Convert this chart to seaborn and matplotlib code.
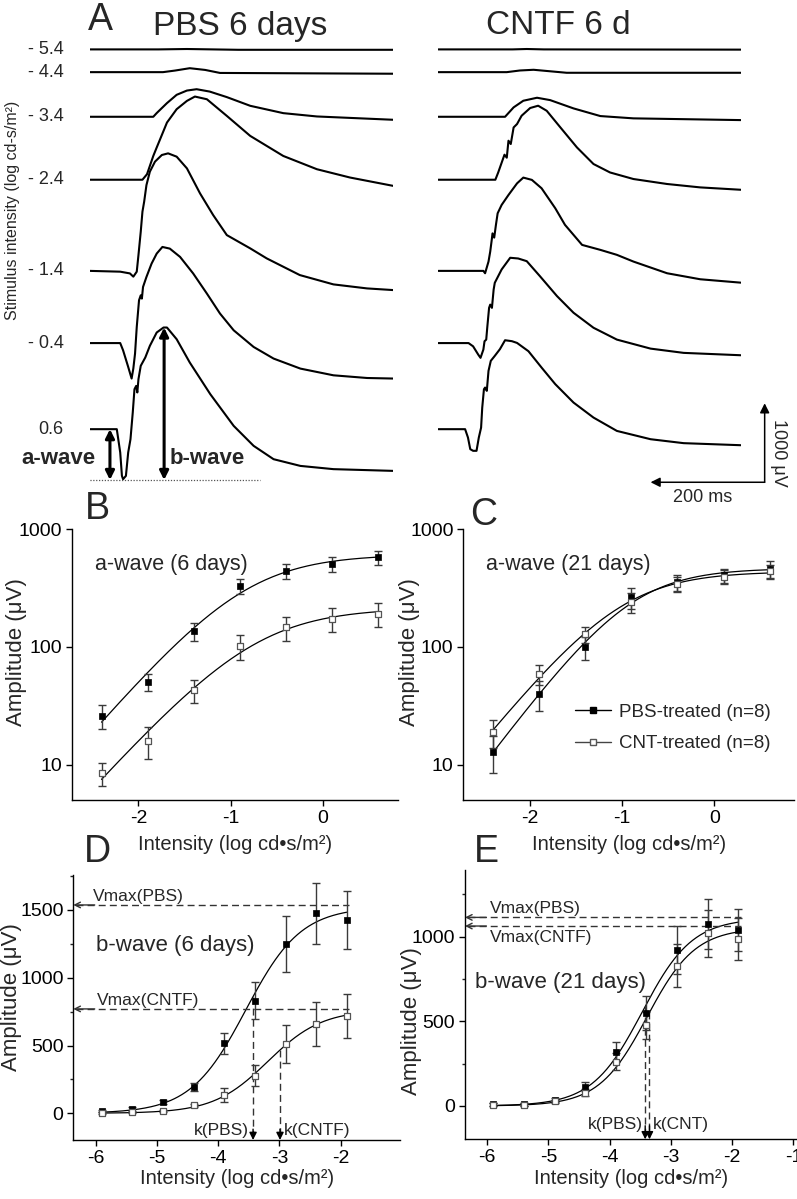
import numpy as np
import matplotlib
matplotlib.use("Agg")
import matplotlib.pyplot as plt
from matplotlib.lines import Line2D
from matplotlib.ticker import MultipleLocator, NullLocator, FixedLocator
import seaborn as sns

W, H = 797, 1199

# ---------------- panel A: ERG traces (ms, uV relative to pre-flash baseline)
INTENSITY_LABELS = ["- 5.4", "- 4.4", "- 3.4", "- 2.4", "- 1.4", "- 0.4", "0.6"]

PBS_TIME = [
    [0, 120, 170, 260, 532],
    [0, 128, 149, 175, 202, 228, 532],
    [0, 111, 117, 135, 152, 170, 187, 210, 240, 281, 339, 398, 532],
    [0, 92, 100, 105, 111, 117, 123, 135, 152, 170, 184, 205, 240, 281, 339, 398, 456, 532],
    [0, 53, 70, 76, 82, 85, 89, 92, 95, 99, 105, 114, 126, 137, 152, 170, 193, 216, 240,
     281, 310, 368, 427, 486, 532],
    [0, 53, 58, 67, 73, 76, 79, 82, 86, 89, 91, 93, 97, 99, 108, 117, 127, 140, 158, 181,
     205, 228, 252, 287, 322, 369, 427, 486, 532],
    [0, 47, 53, 56, 58, 63, 67, 71, 75, 78, 81, 83, 85, 89, 97, 105, 117, 129, 135, 152,
     175, 211, 252, 287, 322, 369, 427, 532],
]
PBS_UV = [
    [0, 0, 5, -5, -5],
    [0, 0, 20, 50, 28, -10, -20],
    [0, 0, 47, 173, 278, 332, 349, 319, 249, 139, 46, 4, -38],
    [0, 0, 70, 175, 301, 408, 513, 724, 893, 998, 1053, 1019, 808, 555, 301, 133, 28, -78],
    [0, -10, -32, -73, -10, 200, 496, 750, 876, 1086, 1256, 1383, 1467, 1488, 1446, 1298,
     981, 707, 453, 285, 158, -53, -171, -222, -243],
    [0, 0, -91, -302, -449, -322, -133, 204, 542, 605, 563, 710, 795, 837, 1006, 1133,
     1217, 1196, 1091, 881, 627, 374, 162, -49, -196, -323, -408, -442, -449],
    [0, 0, -295, -591, -633, -591, -295, -127, 211, 506, 548, 465, 633, 802, 908, 1055,
     1224, 1287, 1287, 1139, 844, 443, 42, -211, -380, -465, -506, -528],
]

CNTF_TIME = [
    [0, 130, 155, 185, 530],
    [0, 120, 143, 167, 196, 225, 530],
    [0, 117, 132, 149, 173, 196, 237, 284, 342, 530],
    [0, 100, 105, 111, 116, 120, 123, 127, 132, 138, 146, 161, 175, 190, 214, 243, 272,
     301, 342, 401, 459, 530],
    [0, 79, 82, 88, 91, 94, 95, 98, 101, 104, 111, 123, 138, 149, 164, 181, 205, 222, 252,
     284, 313, 342, 401, 459, 530],
    [0, 53, 61, 70, 74, 79, 81, 84, 86, 89, 91, 94, 97, 99, 111, 126, 140, 155, 178, 208,
     237, 272, 313, 372, 430, 530],
    [0, 47, 52, 56, 61, 67, 71, 75, 77, 80, 82, 85, 88, 92, 99, 108, 117, 129, 138, 158,
     181, 205, 237, 272, 313, 372, 430, 530],
]
CNTF_UV = [
    [0, 0, 5, 0, -3],
    [0, 0, 21, 30, 11, -8, -8],
    [0, 0, 119, 203, 241, 211, 106, 9, -20, -42],
    [0, 0, 92, 215, 317, 279, 494, 452, 662, 705, 810, 908, 937, 873, 662, 409, 199, 92, 9,
     -54, -97, -127],
    [0, 0, -30, 118, 244, 412, 475, 421, 582, 729, 835, 961, 1108, 1181, 1152, 1046, 793,
     583, 329, 266, 203, 118, -30, -106, -149],
    [0, 0, -41, -146, -187, -82, 23, 44, 213, 446, 487, 446, 678, 763, 932, 1080, 1071,
     1037, 848, 595, 384, 194, 44, -70, -124, -154],
    [0, 0, -106, -253, -274, -274, -106, 20, 273, 506, 527, 485, 738, 865, 928, 1013, 1126,
     1114, 1092, 987, 780, 570, 337, 147, -22, -127, -177, -203],
]
A_WAVE_TROUGH_UV = -643     # dotted reference level under the 0.6 trace
B_WAVE_PEAK_UV = 1287

# ---------------- panels B, C: a-wave amplitude (uV, log scale)
A_INT = [-2.4, -1.9, -1.4, -0.9, -0.4, 0.1, 0.6]
A6_PBS = [26, 51, 137, 330, 443, 505, 575]
A6_PBS_ERR = [6, 8.5, 24, 50, 64, 70, 75]
A6_CNTF = [8.5, 16, 43, 102, 147, 173, 191]
A6_CNTF_ERR = [1.9, 4.8, 9.5, 25, 34, 40, 43]
A21_PBS = [13, 40, 100, 263, 353, 407, 457]
A21_PBS_ERR = [4.5, 11.5, 22, 55, 55, 55, 75]
A21_CNTF = [19, 59, 128, 240, 345, 395, 440]
A21_CNTF_ERR = [5, 11, 20, 45, 50, 50, 60]

# ---------------- panels D, E: b-wave amplitude (uV)
B_INT = [-5.9, -5.4, -4.9, -4.4, -3.9, -3.4, -2.9, -2.4, -1.9]
B6_PBS = [17, 30, 81, 197, 516, 831, 1249, 1476, 1427]
B6_PBS_ERR = [10, 15, 15, 30, 80, 135, 205, 225, 215]
B6_CNTF = [3, 7, 20, 58, 135, 278, 512, 659, 718]
B6_CNTF_ERR = [5, 5, 8, 12, 50, 80, 140, 165, 160]
B21_PBS = [10, 10, 35, 114, 317, 551, 921, 1075, 1039]
B21_PBS_ERR = [8, 8, 12, 25, 60, 100, 140, 150, 125]
B21_CNTF = [8, 8, 28, 79, 262, 478, 829, 1020, 986]
B21_CNTF_ERR = [8, 8, 10, 20, 50, 80, 125, 140, 125]
VMAX6 = [1537, 770]        # PBS, CNTF
K6 = [-3.43, -2.99]
VMAX21 = [1114, 1063]
K21 = [-3.42, -3.35]

# ---------------- layout (pixels of the 797x1199 canvas)
TRACE_OFFSET_UV = [4808, 4520, 3955, 3158, 2004, 1090, 0]
FONT = ["Liberation Sans", "DejaVu Sans"]
INK = "black"
ERR = "#3a3a3a"
OPEN_EDGE = "#555555"

sns.set_theme(style="ticks")
plt.rcParams["font.family"] = FONT
plt.rcParams["axes.linewidth"] = 1.0
plt.rcParams["axes.unicode_minus"] = False

fig = plt.figure(figsize=(W / 100, H / 100), dpi=100)
fig.patch.set_facecolor("white")


def px_axes(left, top, right, bottom):
    return fig.add_axes([left / W, 1 - bottom / H, (right - left) / W, (bottom - top) / H])


def ftext(x, y, s, **kw):
    fig.text(x / W, 1 - y / H, s, **kw)


def hill_fit(x, y, log=False):
    """Least-squares Naka-Rushton fit V = Vmax / (1 + 10**(n (k - x))) by grid search."""
    x = np.asarray(x, float)
    y = np.asarray(y, float)
    ks = np.arange(-6.5, 1.5, 0.01)[:, None, None]
    ns = np.arange(0.4, 3.0, 0.02)[None, :, None]
    f = 1.0 / (1.0 + 10 ** (ns * (ks - x)))
    if log:
        r = np.log(y) - np.log(f)
        lv = r.mean(axis=2, keepdims=True)
        sse = ((r - lv) ** 2).sum(axis=2)
        vmax = np.exp(lv[..., 0])
    else:
        vmax = (f * y).sum(axis=2) / (f * f).sum(axis=2)
        sse = ((y - vmax[..., None] * f) ** 2).sum(axis=2)
    i, j = np.unravel_index(np.argmin(sse), sse.shape)
    return vmax[i, j], ks[i, 0, 0], ns[0, j, 0]


def hill(x, p):
    vmax, k, n = p
    return vmax / (1.0 + 10 ** (n * (k - np.asarray(x, float))))


def draw_series(ax, x, y, err, filled, log=False):
    p = hill_fit(x, y, log=log)
    xs = np.linspace(x[0], x[-1], 200)
    sns.lineplot(x=xs, y=hill(xs, p), ax=ax, color=INK, lw=0.9, estimator=None,
                 sort=False, zorder=2)
    ax.errorbar(x, y, yerr=err, fmt="none", ecolor=ERR, elinewidth=1.0, capsize=3,
                capthick=1.0, zorder=3)
    if filled:
        sns.scatterplot(x=x, y=y, ax=ax, marker="s", s=24, color=INK, edgecolor=INK,
                        linewidth=0.5, zorder=4)
    else:
        sns.scatterplot(x=x, y=y, ax=ax, marker="s", s=24, color="white",
                        edgecolor=OPEN_EDGE, linewidth=0.9, zorder=4)
    return p


def style_axes(ax):
    sns.despine(ax=ax)
    ax.tick_params(direction="out", length=4, width=1, labelsize=14, colors=INK, pad=3)
    ax.tick_params(which="minor", direction="out", length=2.5, width=1)
    for s in ("left", "bottom"):
        ax.spines[s].set_color(INK)
    ax.grid(False)
    ax.set_facecolor("none")


def place_ylabel(ax, box, x_px, frac):
    ax.set_ylabel("Amplitude (\u03bcV)", fontsize=16, va="center")
    ax.yaxis.set_label_coords((x_px - box[0]) / (box[2] - box[0]), frac)


# ---------------- panel A
ylim_a = (-770, 4927)
for (left, right, times, volts, tmax) in [
    (90, 393.3, PBS_TIME, PBS_UV, 532),
    (438.3, 740.7, CNTF_TIME, CNTF_UV, 530),
]:
    ax = px_axes(left, 40, right, 490)
    ax.set_xlim(0, tmax)
    ax.set_ylim(*ylim_a)
    ax.axis("off")
    for t, v, off in zip(times, volts, TRACE_OFFSET_UV):
        sns.lineplot(x=t, y=np.asarray(v) + off, ax=ax, color=INK, lw=1.5,
                     estimator=None, sort=False)
    if left < 100:
        axA = ax
    else:
        axA2 = ax

for lab, off in zip(INTENSITY_LABELS, TRACE_OFFSET_UV):
    axA.text(-46, off, lab, ha="right", va="center", fontsize=13, clip_on=False)

axA.plot([-5, 298], [A_WAVE_TROUGH_UV] * 2, ls=(0, (1, 1.3)), color="#555555", lw=0.9)
arrow_kw = dict(arrowstyle="<|-|>", color=INK, lw=2.2, mutation_scale=13,
                shrinkA=0, shrinkB=0)
axA.annotate("", xy=(35, A_WAVE_TROUGH_UV), xytext=(35, 0), arrowprops=arrow_kw)
axA.annotate("", xy=(130, A_WAVE_TROUGH_UV), xytext=(130, B_WAVE_PEAK_UV),
             arrowprops=arrow_kw)
axA.text(9, -365, "a-wave", ha="right", va="center", fontsize=16, fontweight="bold")
axA.text(140, -365, "b-wave", ha="left", va="center", fontsize=16, fontweight="bold")

# scale bar: 200 ms x 1000 uV
sb_kw = dict(arrowstyle="-|>", color=INK, lw=1.1, mutation_scale=14, shrinkA=0, shrinkB=0)
axA2.annotate("", xy=(572, -672 + 1000), xytext=(572, -672), arrowprops=sb_kw,
              annotation_clip=False)
axA2.annotate("", xy=(572 - 200, -672), xytext=(572, -672), arrowprops=sb_kw,
              annotation_clip=False)
axA2.text(596, -301, "1000 \u03bcV", rotation=270, ha="center", va="center",
          fontsize=13, clip_on=False)
axA2.text(464, -871, "200 ms", ha="center", va="center", fontsize=13, clip_on=False)

ftext(100, 20, "A", fontsize=27, ha="center", va="center")
ftext(240, 26, "PBS 6 days", fontsize=24, ha="center", va="center")
ftext(558, 25, "CNTF 6 d", fontsize=24, ha="center", va="center")
ftext(13, 210, "Stimulus intensity (log cd-s/m\u00b2)", fontsize=11.5, rotation=90,
      ha="center", va="center")

# ---------------- panels B, C
XLAB = "Intensity (log cd\u2022s/m\u00b2)"

for (box, pbs, pbs_e, cntf, cntf_e, note, letter, lab, ylab_x) in [
    ((72, 529, 398, 800), A6_PBS, A6_PBS_ERR, A6_CNTF, A6_CNTF_ERR,
     "a-wave (6 days)", (97, 509), "B", 16.7),
    ((463.3, 529, 794, 800), A21_PBS, A21_PBS_ERR, A21_CNTF, A21_CNTF_ERR,
     "a-wave (21 days)", (484, 515), "C", 410),
]:
    ax = px_axes(*box)
    ax.set_yscale("log")
    draw_series(ax, A_INT, pbs, pbs_e, True, log=True)
    draw_series(ax, A_INT, cntf, cntf_e, False, log=True)
    ax.set_xlim(-2.72, -2.72 + (box[2] - box[0]) / 92.3)
    ax.set_ylim(5.05, 1000)
    ax.yaxis.set_major_locator(FixedLocator([10, 100, 1000]))
    ax.yaxis.set_minor_locator(NullLocator())
    ax.set_yticklabels(["10", "100", "1000"])
    ax.xaxis.set_major_locator(FixedLocator([-2, -1, 0]))
    ax.set_xticklabels(["-2", "-1", "0"])
    style_axes(ax)
    ax.set_xlabel(XLAB, fontsize=14.5, labelpad=6)
    place_ylabel(ax, box, ylab_x, 0.547)
    ax.text(0.07, 0.87, note, transform=ax.transAxes, fontsize=15.5, va="center")
    ftext(*letter, lab, fontsize=27, ha="center", va="center")
    if lab == "C":
        handles = [
            Line2D([], [], color=INK, lw=1, marker="s", ms=5, mfc=INK, mec=INK),
            Line2D([], [], color="#444444", lw=1, marker="s", ms=5, mfc="white",
                   mec=OPEN_EDGE),
        ]
        ax.legend(handles, ["PBS-treated (n=8)", "CNT-treated (n=8)"], frameon=False,
                  fontsize=13.5, handlelength=1.9, handletextpad=0.45, borderpad=0,
                  borderaxespad=0, labelspacing=0.75, loc="center left",
                  bbox_to_anchor=((575 - box[0]) / (box[2] - box[0]),
                                  1 - (728 - box[1]) / (box[3] - box[1])))

# ---------------- panels D, E
for (box, xl, yl, pbs, pbs_e, cntf, cntf_e, vmax, ks, note, note_xy, letter, lab,
     ylab_xy) in [
    ((73.3, 875, 400, 1140), (-6.366, -1.03), (-197, 1758), B6_PBS, B6_PBS_ERR,
     B6_CNTF, B6_CNTF_ERR, VMAX6, K6, "b-wave (6 days)", (-6.0, 1240), (97, 852), "D",
     (11, 0.54)),
    ((465, 870, 797, 1139.3), (-6.364, -0.94), (-197, 1394), B21_PBS, B21_PBS_ERR,
     B21_CNTF, B21_CNTF_ERR, VMAX21, K21, "b-wave (21 days)", (-6.2, 730), (486, 852),
     "E", (411, 0.44)),
]:
    ax = px_axes(*box)
    p_pbs = draw_series(ax, B_INT, pbs, pbs_e, True)
    p_cntf = draw_series(ax, B_INT, cntf, cntf_e, False)
    ax.set_xlim(*xl)
    ax.set_ylim(*yl)
    ax.xaxis.set_major_locator(MultipleLocator(1))
    ax.yaxis.set_major_locator(MultipleLocator(500))
    ax.yaxis.set_minor_locator(MultipleLocator(250))
    style_axes(ax)
    ax.set_xlabel(XLAB, fontsize=14.5, labelpad=2)
    place_ylabel(ax, box, *ylab_xy)
    ax.text(note_xy[0], note_xy[1], note, fontsize=16, va="center")
    ftext(*letter, lab, fontsize=27, ha="center", va="center")

    dash = dict(color="#333333", lw=1.0, ls=(0, (5, 3)))
    for v in vmax:
        ax.plot([xl[0] + 0.05, -1.86], [v, v], **dash)
        ax.annotate("", xy=(xl[0], v), xytext=(xl[0] + 0.35, v),
                    arrowprops=dict(arrowstyle="->", color="#333333", lw=1.0,
                                    mutation_scale=10, shrinkA=0, shrinkB=0))
    for k, p in zip(ks, (p_pbs, p_cntf)):
        top = float(hill(k, p))
        ax.plot([k, k], [top, yl[0] + 40], **dash)
        ax.annotate("", xy=(k, yl[0]), xytext=(k, yl[0] + 80),
                    arrowprops=dict(arrowstyle="-|>", color=INK, lw=1.0,
                                    mutation_scale=11, shrinkA=0, shrinkB=0))

    if lab == "D":
        ax.text(-6.05, 1545, "Vmax(PBS)", fontsize=12.5, va="bottom")
        ax.text(-5.98, 780, "Vmax(CNTF)", fontsize=12.5, va="bottom")
        ax.text(K6[0] - 0.07, -130, "k(PBS)", fontsize=12.5, ha="right", va="center")
        ax.text(K6[1] + 0.07, -130, "k(CNTF)", fontsize=12.5, ha="left", va="center")
    else:
        ax.text(-5.95, 1125, "Vmax(PBS)", fontsize=12.5, va="bottom")
        ax.text(-5.95, 1040, "Vmax(CNTF)", fontsize=12.5, va="top")
        ax.text(K21[0] - 0.04, -110, "k(PBS)", fontsize=12.5, ha="right", va="center")
        ax.text(K21[1] + 0.06, -110, "k(CNT)", fontsize=12.5, ha="left", va="center")

fig.savefig("out.png", dpi=100, facecolor="white")
